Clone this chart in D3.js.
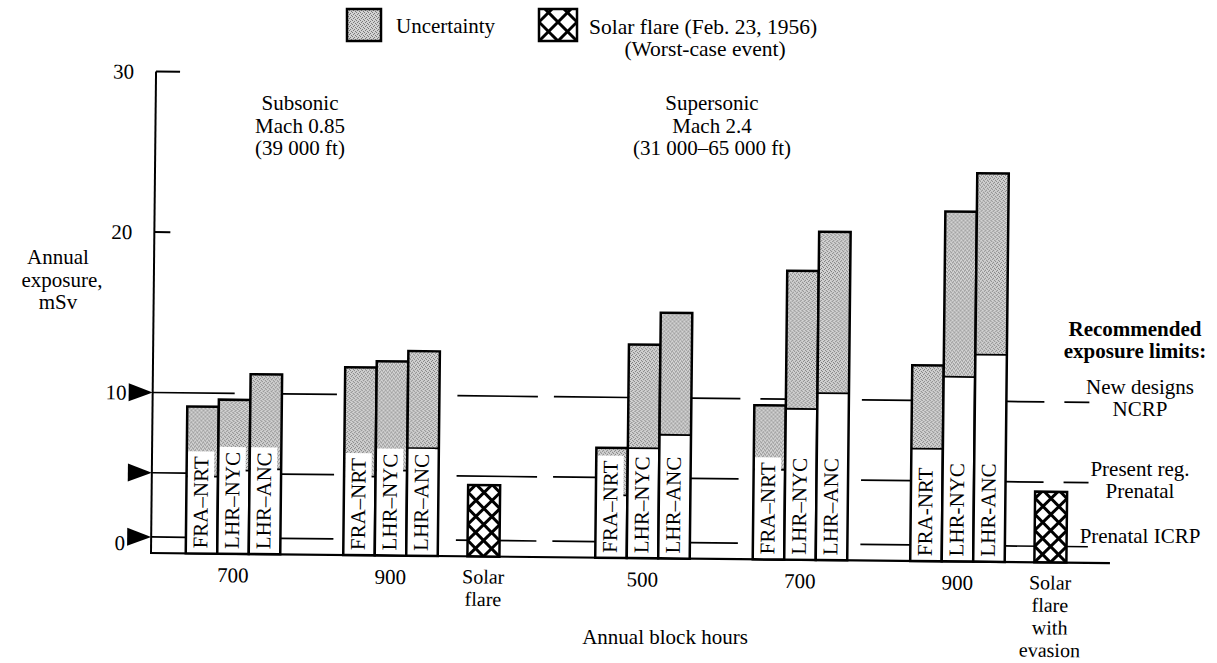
<!DOCTYPE html>
<html><head><meta charset="utf-8">
<script src="https://cdn.jsdelivr.net/npm/d3@7"></script>
<style>
body{margin:0;background:#fff;}
svg{display:block;font-family:"Liberation Serif","Times New Roman",serif;}
</style></head><body>
<svg id="chart" width="1217" height="663"></svg>
<script>
// ---------------- data ----------------
const groupHours   = ["700", "900", "500", "700", "900"];
const routeLabels  = ["FRA–NRT", "LHR–NYC", "LHR–ANC"];
const routeLabelsLast = ["FRA-NRT", "LHR-NYC", "LHR-ANC"];
// lower bound (white part) and upper bound (top of uncertainty) per group, per route, mSv
const lowerValues = [[4.8, 5.2, 5.3], [4.9, 5.3, 6.7], [3.9, 6.85, 7.7], [5.6, 9.4, 10.4], [7.0, 11.5, 12.9]];
const upperValues = [[9.15, 9.6, 11.2], [11.7, 12.1, 12.75], [6.85, 13.3, 15.3], [9.6, 18.0, 20.45], [12.2, 21.8, 24.2]];
const flareLabels = [["Solar", "flare"], ["Solar", "flare", "with", "evasion"]];
const flareValues = [4.45, 4.4];
const limitValues = [10, 5, 1];
const limitLabels = [["New designs", "NCRP"], ["Present reg.", "Prenatal"], ["Prenatal ICRP"]];
const yTickValues = [30, 20];
const yTickLabels = ["30", "20", "10", "0"];
const regimeTitles = [["Subsonic", "Mach 0.85", "(39 000 ft)"], ["Supersonic", "Mach 2.4", "(31 000–65 000 ft)"]];

// ---------------- layout ----------------
const groupSlots = [0, 1, 2.6, 3.6, 4.6];
const flareSlots = [1.59, 5.19];
const bw = 31.5;
const axisX = 151, baseY = 553;
const FS = 21;

const svg = d3.select("#chart");
const defs = svg.append("defs");
const pat = defs.append("pattern").attr("id", "stip").attr("width", 4).attr("height", 4)
  .attr("patternUnits", "userSpaceOnUse");
pat.append("rect").attr("width", 4).attr("height", 4).attr("fill", "#d2d2d2");
[[0,0],[2,1],[1,2],[3,3]].forEach(([a,b]) =>
  pat.append("rect").attr("x", a).attr("y", b).attr("width", 1).attr("height", 1).attr("fill", "#7a7a7a"));

const y = d3.scaleLinear().domain([0, 30]).range([baseY, 71.5]);
const x = d3.scaleLinear().domain([0, 4.6]).range([233, 957.5]);

const plot = svg.append("g").attr("transform", `rotate(0.6,${axisX},${baseY})`);

// limit line segments (hand-drawn dashing of the original)
const gStart = i => x(groupSlots[i]) - 1.5 * bw;
const gEnd = i => x(groupSlots[i]) + 1.5 * bw;
const segs10 = [[axisX, gStart(0) + 1.5 * bw], [gEnd(0), gEnd(0) + 55], [gEnd(1) + 18, gStart(2) - 59],
  [gStart(2) - 43, gStart(2) + bw], [gEnd(2), gEnd(2) + 49], [gEnd(2) + 69, gStart(3) + bw],
  [gEnd(3) + 13, gStart(4)], [gEnd(4), gEnd(4) + 38], [gEnd(4) + 58, gEnd(4) + 83]];
const segs5 = [[axisX, gStart(0)], [gEnd(0), gEnd(0) + 53], [gEnd(1) + 18, gStart(2) - 59],
  [gStart(2) - 43, gStart(2)], [gEnd(2), gEnd(2) + 48], [gEnd(3) + 13, gStart(4)],
  [gEnd(4), gEnd(4) + 38], [gEnd(4) + 58, gEnd(4) + 83]];
const segs1 = [[axisX, gStart(0)], [gEnd(0), gEnd(0) + 53], [gEnd(1) + 18, gStart(2) - 59],
  [gStart(2) - 43, gStart(2)], [gEnd(2), gEnd(2) + 48], [gEnd(3) + 13, gStart(4)],
  [gEnd(4), gEnd(4) + 83]];
[segs10, segs5, segs1].forEach((segs, k) => {
  plot.selectAll(null).data(segs).join("line")
    .attr("x1", d => d[0]).attr("x2", d => d[1])
    .attr("y1", y(limitValues[k])).attr("y2", y(limitValues[k]))
    .attr("stroke", "#000").attr("stroke-width", 1.7);
});

// axis
plot.append("line").attr("x1", axisX).attr("x2", axisX).attr("y1", y(0)).attr("y2", y(30))
  .attr("stroke", "#000").attr("stroke-width", 2);
plot.append("line").attr("x1", axisX - 1).attr("x2", 1110).attr("y1", y(0)).attr("y2", y(0))
  .attr("stroke", "#000").attr("stroke-width", 2.2);
plot.selectAll(null).data(yTickValues).join("line")
  .attr("x1", axisX).attr("x2", d => axisX + (d === 30 ? 24 : 16))
  .attr("y1", d => y(d)).attr("y2", d => y(d)).attr("stroke", "#000").attr("stroke-width", 2);
plot.selectAll(null).data(limitValues).join("path")
  .attr("d", d => `M${axisX - 24},${y(d) - 9}L${axisX},${y(d)}L${axisX - 24},${y(d) + 9}Z`)
  .attr("fill", "#000");
const tickPos = [y(30), y(20), y(10), y(1) + 6];
plot.selectAll(null).data(yTickLabels).join("text")
  .attr("x", (d, i) => i < 2 ? 129 : 125).attr("y", (d, i) => tickPos[i])
  .attr("dy", "0.35em").attr("text-anchor", "end").attr("font-size", FS).text(d => d);

// bars
groupHours.forEach((h, g) => {
  const labels = g === 4 ? routeLabelsLast : routeLabels;
  routeLabels.forEach((r, i) => {
    const bx = x(groupSlots[g]) - 1.5 * bw + i * bw;
    const lo = lowerValues[g][i], hi = upperValues[g][i];
    plot.append("rect").attr("x", bx).attr("y", y(lo)).attr("width", bw).attr("height", y(0) - y(lo)).attr("fill", "#fff");
    plot.append("rect").attr("x", bx).attr("y", y(hi)).attr("width", bw).attr("height", y(lo) - y(hi)).attr("fill", "url(#stip)");
    plot.append("line").attr("x1", bx).attr("x2", bx + bw).attr("y1", y(lo)).attr("y2", y(lo))
      .attr("stroke", "#000").attr("stroke-width", 1.8);
    const box = plot.append("rect").attr("fill", "#fff");
    const t = plot.append("text").attr("font-size", FS)
      .attr("transform", `translate(${bx + 21.5},${y(0) - 5}) rotate(-90)`).text(labels[i]);
    const len = t.node().getComputedTextLength();
    box.attr("x", bx + 1).attr("width", bw - 5).attr("y", y(0) - len - 10).attr("height", len + 10);
    plot.append("rect").attr("x", bx).attr("y", y(hi)).attr("width", bw).attr("height", y(0) - y(hi))
      .attr("fill", "none").attr("stroke", "#000").attr("stroke-width", 2.5);
  });
  plot.append("text").attr("x", x(groupSlots[g])).attr("y", y(0) + 21).attr("dy", "0.35em")
    .attr("text-anchor", "middle").attr("font-size", FS).text(h);
});

// crosshatch helper
function hatch(parent, id, rx, ry, rw, rh, sw) {
  defs.append("clipPath").attr("id", id).append("rect").attr("x", rx).attr("y", ry).attr("width", rw).attr("height", rh);
  const s = rw / 2;
  const gg = parent.append("g").attr("clip-path", `url(#${id})`);
  gg.append("rect").attr("x", rx).attr("y", ry).attr("width", rw).attr("height", rh).attr("fill", "#fff");
  const b = ry + rh;
  const n = Math.ceil((rh + rw) / s) + 2;
  for (let j = -n; j <= n; j++) {
    const px = rx + j * s;
    gg.append("line").attr("x1", px).attr("y1", b).attr("x2", px + rh + rw).attr("y2", b - rh - rw)
      .attr("stroke", "#000").attr("stroke-width", sw);
    gg.append("line").attr("x1", px).attr("y1", b).attr("x2", px - rh - rw).attr("y2", b - rh - rw)
      .attr("stroke", "#000").attr("stroke-width", sw);
  }
  parent.append("rect").attr("x", rx).attr("y", ry).attr("width", rw).attr("height", rh)
    .attr("fill", "none").attr("stroke", "#000").attr("stroke-width", 2.5);
}

flareValues.forEach((v, k) => {
  const cx = x(flareSlots[k]);
  hatch(plot, "fl" + k, cx - 16, y(v), 32, y(0) - y(v), 3);
  plot.selectAll(null).data(flareLabels[k]).join("text")
    .attr("x", cx).attr("y", (d, i) => y(0) + 20 + i * 22.5).attr("dy", "0.35em")
    .attr("text-anchor", "middle").attr("font-size", 20).text(d => d);
});

// legend
svg.append("rect").attr("x", 347).attr("y", 9).attr("width", 34).attr("height", 32)
  .attr("fill", "url(#stip)").attr("stroke", "#000").attr("stroke-width", 2.5);
svg.append("text").attr("x", 396).attr("y", 26).attr("dy", "0.35em").attr("font-size", FS).text("Uncertainty");
hatch(svg, "lg", 539, 9, 38, 32, 3);
svg.append("text").attr("x", 589).attr("y", 26).attr("dy", "0.35em").attr("font-size", 21.5).text("Solar flare (Feb. 23, 1956)");
svg.append("text").attr("x", 705).attr("y", 48).attr("dy", "0.35em").attr("text-anchor", "middle").attr("font-size", 21.5).text("(Worst-case event)");

// regime titles
[300, 712].forEach((cx, k) => {
  svg.selectAll(null).data(regimeTitles[k]).join("text")
    .attr("x", cx).attr("y", (d, i) => 103 + i * 22.5).attr("dy", "0.35em")
    .attr("text-anchor", "middle").attr("font-size", FS).text(d => d);
});

// y axis title
svg.selectAll(null).data(["Annual", "exposure,", "mSv"]).join("text")
  .attr("x", (d, i) => i === 1 ? 62 : 58).attr("y", (d, i) => 257 + i * 22.5).attr("dy", "0.35em")
  .attr("text-anchor", "middle").attr("font-size", FS).text(d => d);

// x axis title
svg.append("text").attr("x", 665).attr("y", 637).attr("dy", "0.35em").attr("text-anchor", "middle")
  .attr("font-size", FS).text("Annual block hours");

// right legend for limits
svg.selectAll(null).data(["Recommended", "exposure limits:"]).join("text")
  .attr("x", 1135).attr("y", (d, i) => 329 + i * 22).attr("dy", "0.35em")
  .attr("text-anchor", "middle").attr("font-weight", "bold").attr("font-size", FS).text(d => d);
const limitLabelY = [387, 469, 536];
limitLabels.forEach((lines, k) => {
  svg.selectAll(null).data(lines).join("text")
    .attr("x", 1140).attr("y", (d, i) => limitLabelY[k] + i * 22).attr("dy", "0.35em")
    .attr("text-anchor", "middle").attr("font-size", FS).text(d => d);
});
</script>
</body></html>
